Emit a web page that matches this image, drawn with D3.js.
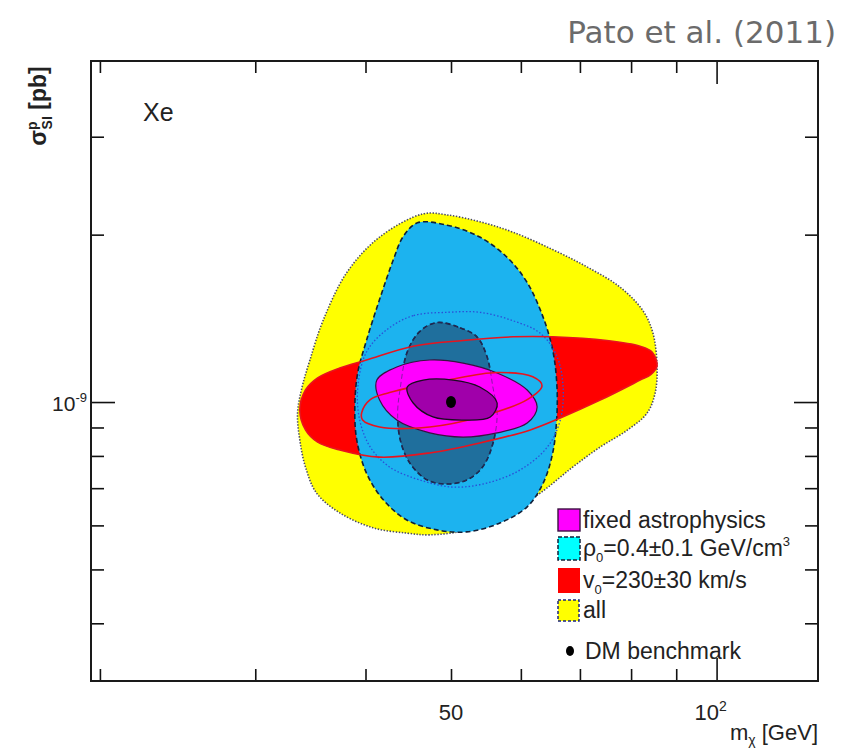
<!DOCTYPE html>
<html><head><meta charset="utf-8">
<script src="https://cdn.jsdelivr.net/npm/d3@7"></script>
<style>body{margin:0;background:#fff;} svg{display:block;}</style>
</head><body><svg id="c" width="850" height="750"></svg>
<script>
// ---- axes data (m in GeV, sigma in units of 1e-9 pb) ----
const xDomain = [19.54, 130.3];
const yDomain = [0.315, 4.105];
const xTicks = [20, 30, 40, 50, 60, 70, 80, 90, 100];
const xMajor = [100];
const yTicks = [0.4, 0.5, 0.6, 0.7, 0.8, 0.9, 1, 2, 3];
const yMajor = [1];
const xTickLabels = [{v: 50, base: "50", sup: ""}, {v: 100, base: "10", sup: "2"}];
const yTickLabels = [{v: 1, base: "10", sup: "-9"}];

// ---- contours [m (GeV), sigma (1e-9 pb)] ----
const allRegion = [[46.5,2.18],[49.5,2.17],[53.9,2.11],[58.8,2.02],[65.2,1.88],[71.3,1.75],[77.7,1.61],[82.5,1.46],[84.7,1.33],[85.6,1.16],[85.2,1.04],[83.4,0.955],[79.2,0.890],[73.8,0.830],[68.7,0.764],[63.1,0.686],[57.9,0.632],[52.1,0.589],[47.3,0.577],[44.6,0.581],[40.8,0.594],[37.4,0.632],[35.2,0.686],[34.2,0.764],[33.7,0.854],[33.5,0.956],[33.9,1.064],[34.6,1.19],[35.8,1.40],[38.1,1.71],[41.5,1.98]];
const v0Outer = [[33.7,0.967],[34.2,1.051],[35.3,1.105],[37.4,1.151],[40.1,1.19],[45.3,1.26],[51.6,1.29],[58.8,1.31],[65.2,1.31],[75.1,1.29],[81.9,1.26],[84.5,1.23],[85.6,1.16],[84.2,1.12],[81.9,1.095],[73.8,1.008],[66.5,0.936],[61.5,0.891],[53.9,0.844],[47.3,0.810],[41.5,0.796],[37.4,0.820],[35.3,0.847],[34.2,0.891]];
const v0Inner = [[39.6,0.956],[40.5,1.01],[42.6,1.04],[49.5,1.095],[56.4,1.13],[61.9,1.11],[63.4,1.07],[61.0,1.01],[53.9,0.940],[47.3,0.902],[41.5,0.902],[39.7,0.928]];
const rhoOuter = [[45.8,2.10],[49.5,2.08],[53.9,1.98],[57.9,1.82],[61.0,1.64],[63.6,1.42],[65.2,1.24],[65.9,1.08],[65.9,0.940],[65.2,0.810],[63.6,0.715],[61.0,0.648],[56.8,0.606],[52.1,0.584],[48.2,0.589],[44.6,0.613],[41.9,0.667],[40.1,0.745],[39.1,0.854],[38.9,0.980],[39.2,1.13],[40.1,1.29],[41.5,1.53],[43.0,1.80],[44.1,1.98]];
const rhoDotted = [[49.5,1.45],[45.3,1.43],[42.3,1.35],[40.1,1.23],[39.2,1.06],[39.4,0.928],[40.5,0.830],[42.6,0.764],[46.1,0.724],[50.3,0.703],[54.9,0.715],[59.9,0.755],[64.3,0.830],[66.5,0.928],[67.0,1.06],[65.9,1.21],[63.1,1.33],[58.8,1.40],[53.9,1.45]];
const rhoInner = [[48.2,1.39],[51.2,1.36],[53.5,1.31],[54.9,1.21],[55.8,1.06],[56.4,0.956],[55.8,0.844],[54.3,0.764],[52.1,0.724],[49.5,0.712],[47.0,0.724],[44.9,0.777],[43.8,0.854],[43.5,0.956],[43.8,1.06],[44.6,1.23],[46.1,1.34]];
const fixedOuter = [[41.2,1.095],[43.4,1.156],[47.3,1.19],[51.6,1.175],[56.4,1.128],[61.0,1.051],[62.6,0.980],[61.0,0.917],[56.4,0.880],[51.6,0.865],[47.3,0.880],[43.4,0.928],[41.5,1.008]];
const fixedInner = [[44.6,1.064],[46.5,1.095],[50.3,1.095],[53.9,1.064],[56.4,0.996],[55.4,0.940],[51.6,0.928],[47.7,0.940],[45.3,0.996]];
const benchmark = [50, 1.0];

// legend entries: [text, role] ; role "" normal, "sub" subscript, "back" return to baseline, "sup" superscript
const legendItems = [
  {kind: "fixed", parts: [["fixed astrophysics", ""]]},
  {kind: "rho", parts: [["ρ", ""], ["0", "sub"], ["=0.4±0.1 GeV/cm", "back"], ["3", "sup"]]},
  {kind: "v0", parts: [["v", ""], ["0", "sub"], ["=230±30 km/s", "back"]]},
  {kind: "all", parts: [["all", ""]]},
  {kind: "dot", parts: [["DM benchmark", ""]]}
];

const L = 91, R = 818, T = 61, B = 681;
const FONT = "'Liberation Sans', Arial, Helvetica, sans-serif";
const svg = d3.select("#c");
const x = d3.scaleLog().domain(xDomain).range([L, R]);
const y = d3.scaleLog().domain(yDomain).range([B, T]);
const path = d3.line().x(d => x(d[0])).y(d => y(d[1])).curve(d3.curveCatmullRomClosed.alpha(0.5));

svg.append("defs").append("clipPath").attr("id", "clip")
  .append("rect").attr("x", L).attr("y", T).attr("width", R - L).attr("height", B - T);
const g = svg.append("g").attr("clip-path", "url(#clip)");

// layers
g.append("path").attr("d", path(allRegion)).attr("fill", "#ffff00")
  .attr("stroke", "#4a4a66").attr("stroke-width", 1.6).attr("stroke-dasharray", "1.4 1.6");
g.append("path").attr("d", path(v0Outer)).attr("fill", "#ff0000").attr("stroke", "none");
g.append("path").attr("d", path(rhoOuter)).attr("fill", "#1cb3ef")
  .attr("stroke", "#10203a").attr("stroke-width", 1.6).attr("stroke-dasharray", "5 3");
g.append("path").attr("d", path(rhoDotted)).attr("fill", "none")
  .attr("stroke", "#2a4fd8").attr("stroke-width", 1.3).attr("stroke-dasharray", "1.5 2");
g.append("path").attr("d", path(rhoInner)).attr("fill", "#1f6f9d")
  .attr("stroke", "#10203a").attr("stroke-width", 1.6).attr("stroke-dasharray", "5 3");
g.append("path").attr("d", path(v0Outer)).attr("fill", "none").attr("stroke", "#e8141e").attr("stroke-width", 1.6);
g.append("path").attr("d", path(fixedOuter)).attr("fill", "#ff00ff").attr("stroke", "#3a1040").attr("stroke-width", 1.2);
g.append("path").attr("d", path(rhoInner)).attr("fill", "none")
  .attr("stroke", "#3a2a6a").attr("stroke-width", 1).attr("stroke-dasharray", "5 3").attr("opacity", 0.6);
g.append("path").attr("d", path(v0Inner)).attr("fill", "none").attr("stroke", "#e8141e").attr("stroke-width", 1.6);
g.append("path").attr("d", path(fixedInner)).attr("fill", "#a000aa").attr("stroke", "#1a0a20").attr("stroke-width", 1.3);
g.append("ellipse").attr("cx", x(benchmark[0])).attr("cy", y(benchmark[1])).attr("rx", 5).attr("ry", 6).attr("fill", "#000");

// axes with inward ticks
function styleAxis(sel, major, len, majLen, horiz, sign) {
  sel.select(".domain").remove();
  sel.selectAll(".tick line").attr("stroke", "#111").attr("stroke-width", 1.6)
    .each(function(d) {
      const l = (major.includes(d) ? majLen : len) * sign;
      if (horiz) d3.select(this).attr("y2", l); else d3.select(this).attr("x2", l);
    });
}
svg.append("g").attr("transform", `translate(0,${B})`)
  .call(d3.axisBottom(x).tickValues(xTicks).tickFormat(""))
  .call(s => styleAxis(s, xMajor, 12, 23, true, -1));
svg.append("g").attr("transform", `translate(0,${T})`)
  .call(d3.axisTop(x).tickValues(xTicks).tickFormat(""))
  .call(s => styleAxis(s, xMajor, 12, 23, true, 1));
svg.append("g").attr("transform", `translate(${L},0)`)
  .call(d3.axisLeft(y).tickValues(yTicks).tickFormat(""))
  .call(s => styleAxis(s, yMajor, 13, 24, false, 1));
svg.append("g").attr("transform", `translate(${R},0)`)
  .call(d3.axisRight(y).tickValues(yTicks).tickFormat(""))
  .call(s => styleAxis(s, yMajor, 13, 24, false, -1));

svg.append("rect").attr("x", L).attr("y", T).attr("width", R - L).attr("height", B - T)
  .attr("fill", "none").attr("stroke", "#1a1a1a").attr("stroke-width", 2);

// tick labels
xTickLabels.forEach(t => {
  const tx = svg.append("text").attr("x", x(t.v) - (t.sup ? 6 : 0)).attr("y", 720)
    .attr("text-anchor", "middle").attr("font-family", FONT).attr("font-size", 22).attr("fill", "#222");
  tx.append("tspan").text(t.base);
  if (t.sup) tx.append("tspan").attr("dy", -9).attr("font-size", 14).text(t.sup);
});
yTickLabels.forEach(t => {
  const tx = svg.append("text").attr("x", L - 4).attr("y", y(t.v) + 9)
    .attr("text-anchor", "end").attr("font-family", FONT).attr("font-size", 21).attr("fill", "#222");
  tx.append("tspan").text(t.base);
  tx.append("tspan").attr("dy", -9).attr("font-size", 13).text(t.sup);
});

// axis titles
const xt = svg.append("text").attr("x", R).attr("y", 740).attr("text-anchor", "end")
  .attr("font-family", FONT).attr("font-size", 22).attr("fill", "#222");
xt.append("tspan").text("m");
xt.append("tspan").attr("dy", 5).attr("font-size", 14).text("χ");
xt.append("tspan").attr("dy", -5).text(" [GeV]");

const yt = svg.append("text").attr("transform", "translate(46,106) rotate(-90)").attr("text-anchor", "middle")
  .attr("font-family", FONT).attr("font-size", 23).attr("font-weight", "bold").attr("fill", "#222");
yt.append("tspan").text("σ");
yt.append("tspan").attr("dy", -9).attr("font-size", 14).text("p");
yt.append("tspan").attr("dx", -8).attr("dy", 15).attr("font-size", 14).text("SI");
yt.append("tspan").attr("dy", -6).text(" [pb]");

svg.append("text").attr("x", 143).attr("y", 121).attr("font-family", FONT).attr("font-size", 25)
  .attr("fill", "#222").text("Xe");

svg.append("text").attr("x", 836).attr("y", 43).attr("text-anchor", "end")
  .attr("font-family", "'DejaVu Sans', Verdana, sans-serif").attr("font-size", 31).attr("fill", "#6b6b6b")
  .text("Pato et al. (2011)");

// legend
const rowY = [520, 548, 580, 610, 651];
const lg = svg.append("g");
legendItems.forEach((it, i) => {
  const cy = rowY[i];
  if (it.kind === "fixed") lg.append("rect").attr("x", 558).attr("y", cy - 11).attr("width", 22).attr("height", 22).attr("fill", "#ff00ff").attr("stroke", "#3a1040").attr("stroke-width", 1.4);
  if (it.kind === "rho") lg.append("rect").attr("x", 558).attr("y", cy - 11).attr("width", 22).attr("height", 23).attr("fill", "#00ffff").attr("stroke", "#10203a").attr("stroke-width", 1.5).attr("stroke-dasharray", "4 2");
  if (it.kind === "v0") lg.append("rect").attr("x", 558).attr("y", cy - 12).attr("width", 22).attr("height", 25).attr("fill", "#ff0000");
  if (it.kind === "all") lg.append("rect").attr("x", 558).attr("y", cy - 10).attr("width", 21).attr("height", 21).attr("fill", "#ffff00").attr("stroke", "#1a237e").attr("stroke-width", 1.5).attr("stroke-dasharray", "3 2");
  if (it.kind === "dot") lg.append("ellipse").attr("cx", 570).attr("cy", cy).attr("rx", 4).attr("ry", 5).attr("fill", "#000");
  const t = lg.append("text").attr("x", it.kind === "dot" ? 585 : 583).attr("y", cy + 8)
    .attr("font-family", FONT).attr("font-size", 23).attr("fill", "#222");
  it.parts.forEach(p => {
    const ts = t.append("tspan").text(p[0]);
    if (p[1] === "sub") ts.attr("font-size", 13).attr("dy", 6);
    else if (p[1] === "back") ts.attr("dy", -6);
    else if (p[1] === "sup") ts.attr("font-size", 13).attr("dy", -10);
  });
});
</script></body></html>
